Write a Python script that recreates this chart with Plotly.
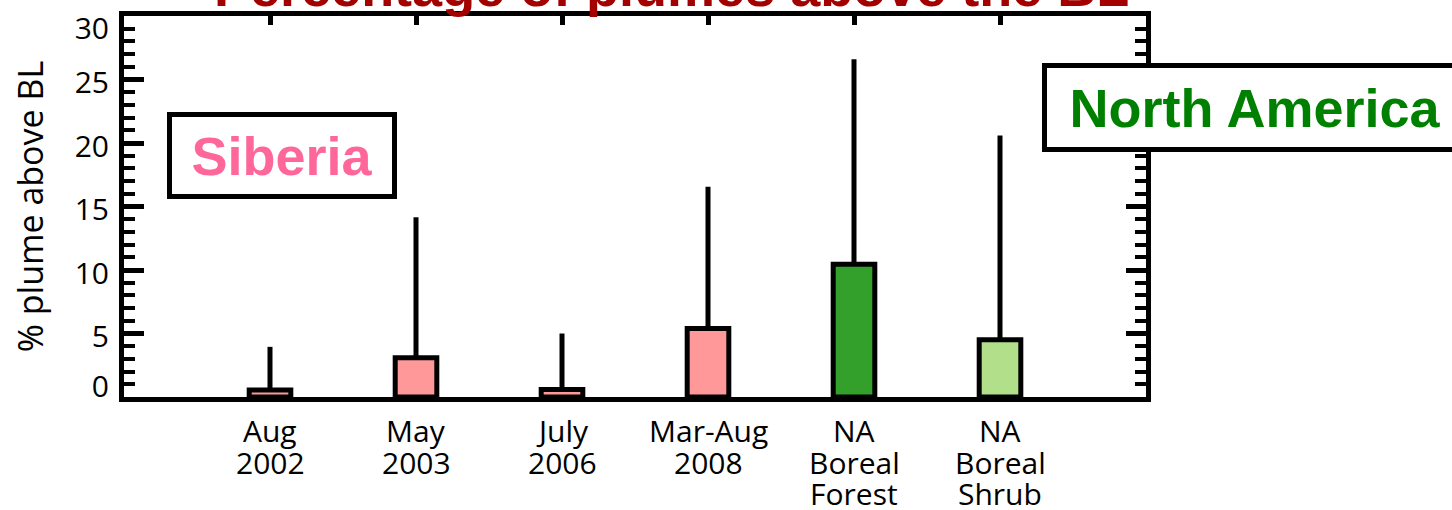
import plotly.graph_objects as go

# ---- data ----
categories = ["Aug 2002", "May 2003", "July 2006", "Mar-Aug 2008", "NA Boreal Forest", "NA Boreal Shrub"]
label_lines = [["Aug", "2002"], ["May", "2003"], ["July", "2006"], ["Mar-Aug", "2008"],
               ["NA", "Boreal", "Forest"], ["NA", "Boreal", "Shrub"]]
values = [0.55, 3.1, 0.6, 5.4, 10.45, 4.5]
upper = [3.95, 14.15, 5.0, 16.55, 26.6, 20.6]
bar_colors = ["#FF9999", "#FF9999", "#FF9999", "#FF9999", "#33A02C", "#B2DF8A"]
y_ticks = [0, 5, 10, 15, 20, 25, 30]
y_ticktext = ["0", "5", "10", "15", "20", "25", "30"]

# ---- layout geometry (pixels) ----
W, H = 1452, 510
PL, PR, PT, PB = 124, 1146, 16, 397
# IDL-style label placement: end labels pulled inside the axis range
y_label_pos = [0.8, 4.75, 9.75, 14.75, 19.75, 24.75, 29.0]


def px(xp):
    return (xp - PL) / (PR - PL)


def py(yp):
    return (PB - yp) / (PB - PT)


xs = list(range(len(categories)))
err_plus = [u - v for u, v in zip(upper, values)]

fig = go.Figure()
fig.add_trace(go.Bar(
    x=xs, y=values, width=0.285,
    marker=dict(color=bar_colors, line=dict(color="black", width=5)),
    error_y=dict(type="data", symmetric=False, array=err_plus,
                 arrayminus=[0] * len(values), color="black", thickness=5, width=0),
    hovertext=categories, showlegend=False,
))
fig.add_trace(go.Scatter(x=[], y=[], xaxis="x2", yaxis="y2", showlegend=False))

TICKFONT = dict(family="Open Sans", size=30, color="black")

fig.update_layout(
    width=W, height=H,
    margin=dict(l=PL, r=W - PR, t=PT, b=H - PB, pad=0, autoexpand=False),
    paper_bgcolor="white", plot_bgcolor="white",
    xaxis=dict(range=[-1, 6], showline=True, linecolor="black", linewidth=5, mirror=True,
               ticks="", showticklabels=False, showgrid=False, zeroline=False,
               automargin=False),
    xaxis2=dict(range=[-1, 6], overlaying="x", side="top", anchor="y", tickvals=xs,
                ticks="inside", ticklen=9, tickwidth=5, tickcolor="black",
                showticklabels=False, showline=False, showgrid=False, zeroline=False,
                automargin=False),
    yaxis=dict(range=[0, 30], tickvals=y_ticks, ticks="inside", ticklen=20, tickwidth=5,
               tickcolor="black", showline=True, linecolor="black", linewidth=5,
               mirror="ticks", showgrid=False, zeroline=False, showticklabels=False,
               automargin=False,
               minor=dict(dtick=1, ticks="inside", ticklen=11, tickwidth=4, tickcolor="black")),
    yaxis2=dict(range=[0, 30], overlaying="y", side="left", anchor="x",
                tickvals=y_label_pos, ticktext=y_ticktext, ticks="",
                showline=False, showgrid=False, zeroline=False, tickfont=TICKFONT,
                ticklabelstandoff=14, ticklabeloverflow="allow", automargin=False,
                title=dict(text="% plume above BL",
                           font=dict(family="Open Sans", size=34, color="black"),
                           standoff=20)),
)

annotations = []
# title (partly above the page)
annotations.append(dict(
    text="<b>Percentage of plumes above the BL</b>", xref="paper", yref="paper",
    x=px(671), y=py(19), xanchor="center", yanchor="bottom", showarrow=False,
    font=dict(family="Liberation Sans", size=54, color="#A30000")))

# category labels, one line at a time
line_centers = [431, 462, 493]
for i, lines in enumerate(label_lines):
    for j, line in enumerate(lines):
        annotations.append(dict(
            text=line, xref="x", yref="paper", x=xs[i], y=py(line_centers[j]),
            xanchor="center", yanchor="middle", showarrow=False, font=TICKFONT))

# region boxes
annotations.append(dict(
    text="<b>Siberia</b>", xref="paper", yref="paper", x=px(282), y=py(155.5),
    xanchor="center", yanchor="middle", showarrow=False, width=220, height=77,
    bgcolor="white", bordercolor="black", borderwidth=5, borderpad=0,
    font=dict(family="Liberation Sans", size=54, color="#FF6699")))
annotations.append(dict(
    text="<b>North America</b>", xref="paper", yref="paper", x=px(1255), y=py(107.5),
    xanchor="center", yanchor="middle", showarrow=False, width=416, height=79,
    bgcolor="white", bordercolor="black", borderwidth=5, borderpad=0,
    font=dict(family="Liberation Sans", size=54, color="#008000")))

fig.update_layout(annotations=annotations)
fig.write_html("out.html")
